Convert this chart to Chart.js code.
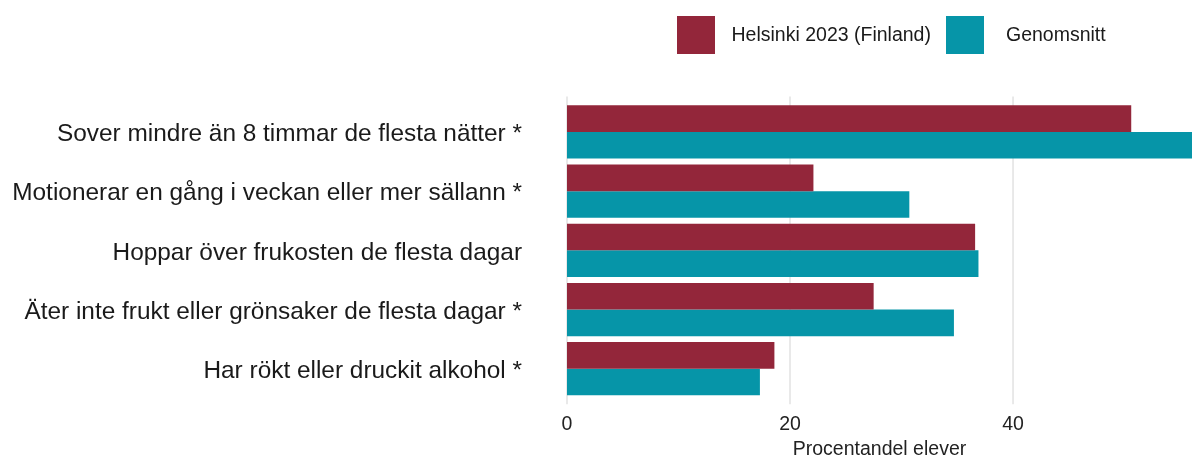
<!DOCTYPE html>
<html><head><meta charset="utf-8">
<script src="https://cdn.jsdelivr.net/npm/chart.js@4"></script>
<style>html,body{margin:0;padding:0;background:#fff;overflow:hidden}#wrap{width:1192px;height:455px;position:relative}</style>
</head><body><div id="wrap"><canvas id="c"></canvas></div>
<script>
const categories = [
  'Sover mindre än 8 timmar de flesta nätter *',
  'Motionerar en gång i veckan eller mer sällann *',
  'Hoppar över frukosten de flesta dagar',
  'Äter inte frukt eller grönsaker de flesta dagar *',
  'Har rökt eller druckit alkohol *'
];
const helsinki = [50.6, 22.1, 36.6, 27.5, 18.6];
const genomsnitt = [57.5, 30.7, 36.9, 34.7, 17.3];
const seriesNames = ['Helsinki 2023 (Finland)', 'Genomsnitt'];
const seriesColors = ['#93263A', '#0695A8'];
const xTicks = [0, 20, 40];
const xMax = 56.05;
const axisTitle = 'Procentandel elever';
const FONT = '"Liberation Sans", Arial, sans-serif';

const gridPlugin = {
  id: 'gridExt',
  beforeDatasetsDraw(chart) {
    const {ctx, chartArea} = chart;
    const xs = chart.scales.x;
    ctx.save();
    ctx.strokeStyle = '#e2e2e2';
    ctx.lineWidth = 1.5;
    xs.ticks.forEach(t => {
      const px = xs.getPixelForValue(t.value);
      ctx.beginPath();
      ctx.moveTo(px, chartArea.top - 6);
      ctx.lineTo(px, chartArea.bottom + 6);
      ctx.stroke();
    });
    ctx.restore();
  }
};

const legendPlugin = {
  id: 'customLegend',
  afterDraw(chart) {
    const {ctx} = chart;
    const items = [
      {box: 677, text: 731.5},
      {box: 946, text: 1006}
    ];
    ctx.save();
    ctx.font = '19.5px ' + FONT;
    ctx.textBaseline = 'middle';
    ctx.textAlign = 'left';
    chart.data.datasets.forEach((ds, i) => {
      ctx.fillStyle = ds.backgroundColor;
      ctx.fillRect(items[i].box, 16, 38, 38);
      ctx.fillStyle = '#1a1a1a';
      ctx.fillText(ds.label, items[i].text, 36);
    });
    ctx.restore();
  }
};

new Chart(document.getElementById('c'), {
  type: 'bar',
  data: {
    labels: categories,
    datasets: [
      {label: seriesNames[0], data: helsinki, backgroundColor: seriesColors[0], borderWidth: 0, barPercentage: 1.0, categoryPercentage: 0.9},
      {label: seriesNames[1], data: genomsnitt, backgroundColor: seriesColors[1], borderWidth: 0, barPercentage: 1.0, categoryPercentage: 0.9}
    ]
  },
  options: {
    indexAxis: 'y',
    responsive: true,
    maintainAspectRatio: false,
    animation: false,
    layout: {padding: {top: 102.4, right: 0, left: 0, bottom: 0}},
    plugins: {legend: {display: false}, tooltip: {enabled: false}},
    scales: {
      x: {
        type: 'linear', min: 0, max: xMax,
        afterBuildTicks: s => { s.ticks = xTicks.map(v => ({value: v})); },
        afterFit: s => { s.height = 56.7; s.paddingLeft = 0; s.paddingRight = 0; },
        grid: {display: false, drawTicks: false},
        border: {display: false},
        ticks: {font: {family: FONT, size: 19.5}, color: '#222', padding: 14.5, maxRotation: 0},
        title: {display: true, text: axisTitle, font: {family: FONT, size: 19.5}, color: '#222', padding: {top: 0, bottom: -6}}
      },
      y: {
        afterFit: s => { s.width = 567; s.paddingTop = 0; s.paddingBottom = 0; },
        grid: {display: false, drawTicks: false},
        border: {display: false},
        ticks: {font: {family: FONT, size: 24.4}, color: '#1a1a1a', padding: 45, labelOffset: 2.5}
      }
    }
  },
  plugins: [gridPlugin, legendPlugin]
});
</script>
</body></html>
